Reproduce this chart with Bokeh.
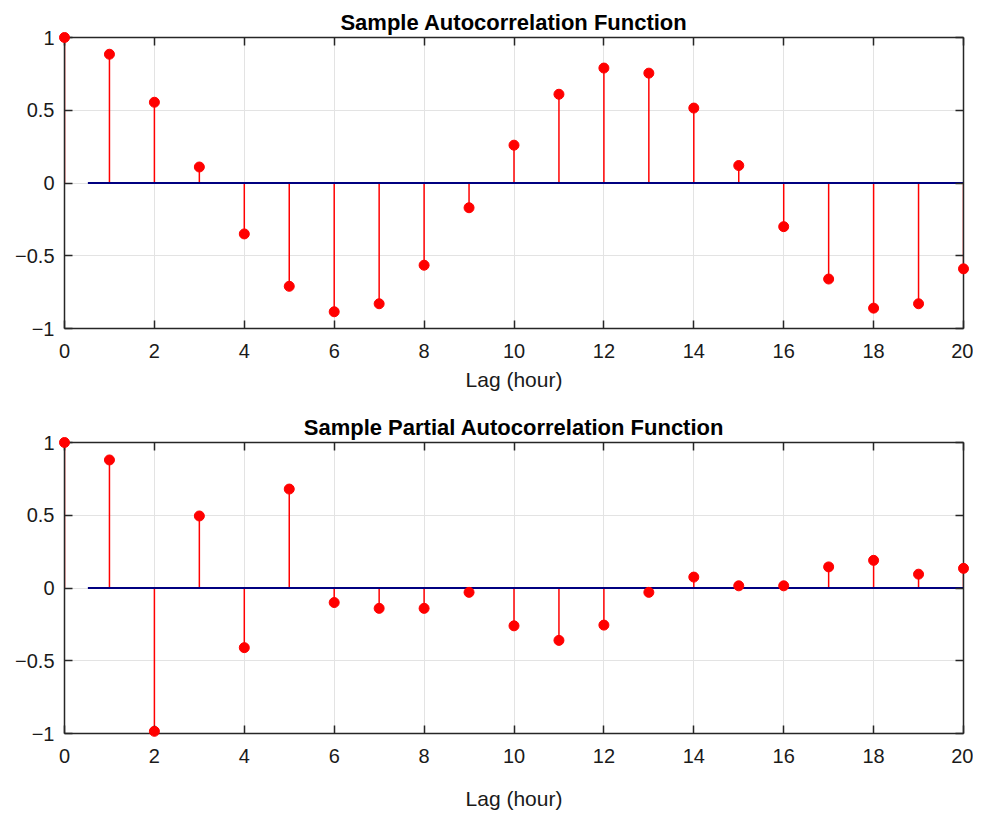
from bokeh.plotting import figure
from bokeh.models import LinearAxis, FixedTicker, Range1d
from bokeh.layouts import column
from bokeh.embed import file_html
from bokeh.resources import INLINE

lags = list(range(0, 21))
acf = [1.0, 0.885, 0.555, 0.11, -0.35, -0.71, -0.885, -0.83, -0.565, -0.17,
       0.26, 0.61, 0.79, 0.755, 0.515, 0.12, -0.30, -0.66, -0.86, -0.83, -0.59]
pacf = [1.0, 0.88, -0.985, 0.495, -0.41, 0.68, -0.10, -0.14, -0.14, -0.03,
        -0.26, -0.36, -0.255, -0.03, 0.075, 0.015, 0.015, 0.145, 0.19, 0.095, 0.135]
x_ticks = [0, 2, 4, 6, 8, 10, 12, 14, 16, 18, 20]
y_ticks = [-1, -0.5, 0, 0.5, 1]
y_tick_labels = {-1: "\u22121", -0.5: "\u22120.5", 0: "0", 0.5: "0.5", 1: "1"}
baseline_x = [0.52, 20]
titles = ["Sample Autocorrelation Function", "Sample Partial Autocorrelation Function"]
x_label = "Lag (hour)"

FONT = "Liberation Sans"
AXIS_COLOR = "#262626"


def make_plot(title, values, border_top, border_bottom, label_standoff):
    p = figure(frame_width=899, frame_height=291, output_backend="svg",
               toolbar_location=None, x_range=Range1d(0, 20), y_range=Range1d(-1, 1),
               min_border_left=64, min_border_right=10,
               min_border_top=border_top, min_border_bottom=border_bottom,
               title=title)
    p.title.align = "center"
    p.title.text_font = FONT
    p.title.text_font_size = "22px"
    p.title.text_font_style = "bold"
    p.title.text_color = "#000000"
    p.title.standoff = 6
    p.outline_line_color = None
    p.background_fill_color = "white"
    p.border_fill_color = "white"

    for ax in (p.xaxis[0], p.yaxis[0]):
        ax.axis_line_color = AXIS_COLOR
        ax.axis_line_width = 1.5
        ax.major_tick_line_color = AXIS_COLOR
        ax.major_tick_line_width = 1.5
        ax.major_tick_in = 8
        ax.major_tick_out = 0
        ax.minor_tick_line_color = None
        ax.major_label_text_font = FONT
        ax.major_label_text_font_size = "20px"
        ax.major_label_text_color = "#1a1a1a"
    p.xaxis[0].ticker = FixedTicker(ticks=x_ticks)
    p.yaxis[0].ticker = FixedTicker(ticks=y_ticks)
    p.yaxis[0].major_label_overrides = y_tick_labels
    p.xaxis[0].major_label_standoff = 15
    p.yaxis[0].major_label_standoff = 10
    p.xaxis[0].axis_label = x_label
    p.xaxis[0].axis_label_text_font = FONT
    p.xaxis[0].axis_label_text_font_size = "21px"
    p.xaxis[0].axis_label_text_font_style = "normal"
    p.xaxis[0].axis_label_text_color = "#1a1a1a"
    p.xaxis[0].axis_label_standoff = label_standoff

    top_ax = LinearAxis(ticker=FixedTicker(ticks=x_ticks))
    right_ax = LinearAxis(ticker=FixedTicker(ticks=y_ticks))
    for ax in (top_ax, right_ax):
        ax.axis_line_color = AXIS_COLOR
        ax.axis_line_width = 1.5
        ax.major_tick_line_color = AXIS_COLOR
        ax.major_tick_line_width = 1.5
        ax.major_tick_in = 8
        ax.major_tick_out = 0
        ax.minor_tick_line_color = None
        ax.major_label_text_font_size = "1px"
        ax.major_label_text_color = None
        ax.major_label_standoff = 0
    p.add_layout(top_ax, "above")
    p.add_layout(right_ax, "right")

    p.xgrid.ticker = FixedTicker(ticks=x_ticks)
    p.ygrid.ticker = FixedTicker(ticks=y_ticks)
    p.grid.grid_line_color = "#e3e3e3"
    p.grid.grid_line_width = 1

    p.segment(x0=lags, y0=[0] * len(lags), x1=lags, y1=values,
              line_color="#ff0000", line_width=1.5)
    p.line(x=baseline_x, y=[0, 0], line_color="#000080", line_width=2.2)
    p.scatter(x=lags, y=values, size=10, fill_color="#ff0000",
              line_color="#ff0000", level="overlay")
    return p


p1 = make_plot(titles[0], acf, 37, 72, 7)
p2 = make_plot(titles[1], pacf, 42, 77, 21)
layout = column(p1, p2, spacing=0)

open("out.html", "w").write(file_html(layout, INLINE))
